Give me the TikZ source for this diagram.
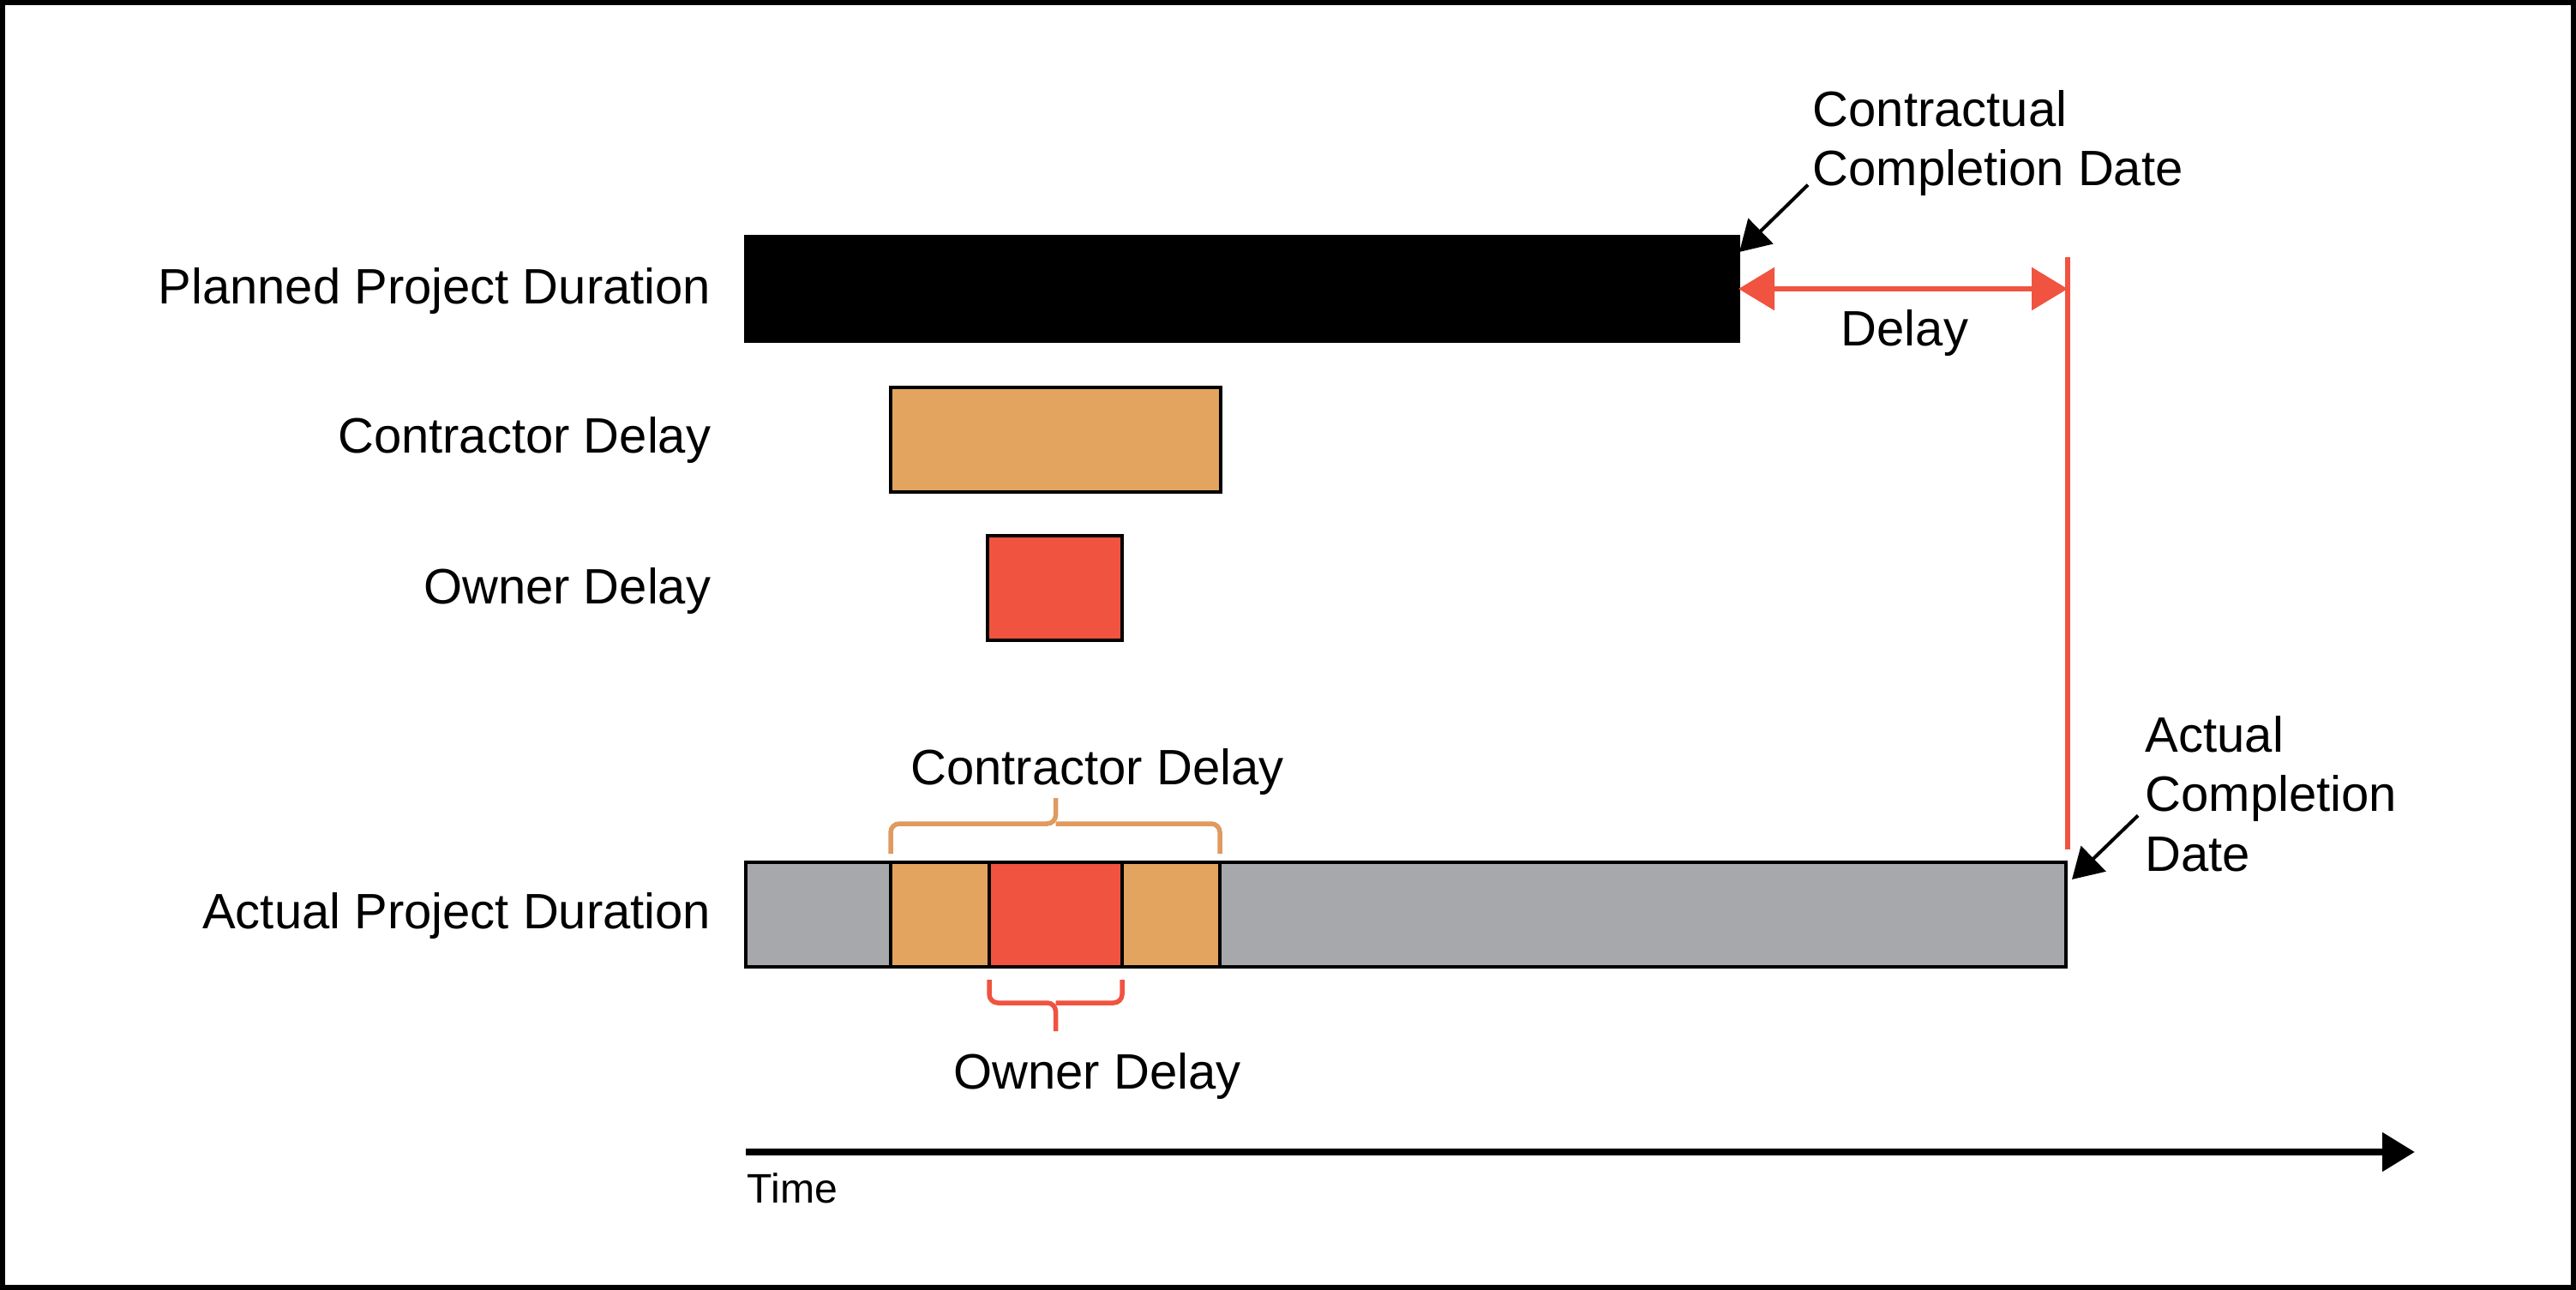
\documentclass[tikz,border=0pt]{standalone}
\usepackage{fontspec}
\setmainfont{Liberation Sans}
\usepackage{tikz}
\usetikzlibrary{positioning,arrows.meta}

\definecolor{cdelay}{HTML}{E2A45F}
\definecolor{odelay}{HTML}{F0533F}
\definecolor{actgray}{HTML}{A7A8AB}
\definecolor{cbrace}{HTML}{E09A5F}

\begin{document}
\begin{tikzpicture}[x=1mm, y=-1mm,
  lbl/.style={font=\fontsize{16.5}{19.7}\selectfont, inner sep=0pt},
  bar/.style={draw=black, line width=0.4mm, inner sep=0pt, outer sep=0pt, minimum height=12.2mm},
  callout/.style={line width=0.4mm, -{Triangle[length=3.5mm,width=4.1mm]}},
  delay/.style={draw=odelay, line width=0.62mm},
  brc/.style={line width=0.55mm, rounded corners=1mm}]

\useasboundingbox (0,0) rectangle (300.5,150.5);
\draw[line width=0.6mm] (0.3,0.3) rectangle (300.2,150.2);

% planned and delay bars
\node[bar, fill=black, minimum width=115.8mm, anchor=north west] (plan) at (87,27.6) {};
\node[bar, fill=cdelay, minimum width=38.5mm, anchor=north west] (cdel) at (103.9,45.2) {};
\node[bar, fill=odelay, minimum width=15.7mm, anchor=north west] (odel) at (115.2,62.5) {};

\node[lbl, anchor=base east] (lplan) at (83,35.5) {Planned Project Duration};
\node[lbl, anchor=base east] (lcdel) at (83,52.9) {Contractor Delay};
\node[lbl, anchor=base east] (lodel) at (83,70.5) {Owner Delay};

% actual bar
\node[bar, fill=actgray, minimum width=16.9mm, anchor=north west] (a1) at (87,100.6) {};
\node[bar, fill=cdelay, minimum width=11.5mm, right=0pt of a1] (a2) {};
\node[bar, fill=odelay, minimum width=15.5mm, right=0pt of a2] (a3) {};
\node[bar, fill=cdelay, minimum width=11.4mm, right=0pt of a3] (a4) {};
\node[bar, fill=actgray, minimum width=98.7mm, right=0pt of a4] (a5) {};
\node[lbl, anchor=base east] (lact) at (83,108.3) {Actual Project Duration};

% delay
\coordinate (ctop) at (241.2,30.0);
\coordinate (cbot) at (241.2,99.1);
\draw[delay] (ctop) -- (cbot);
\draw[delay, {Triangle[length=4.2mm,width=4.9mm]}-{Triangle[length=4.2mm,width=4.9mm]}] (plan.east) -- (plan.east -| ctop);
\node[lbl, anchor=base] (ldel) at (222.2,40.4) {Delay};

\node[lbl, anchor=north west, align=left] (ccd) at (211.4,10.5) {Contractual\\Completion Date};
\draw[callout] ([xshift=-0.5mm,yshift=1.4mm]ccd.south west) -- ([xshift=0.1mm,yshift=-1.8mm]plan.north east);
\node[lbl, anchor=north west, align=left] (acd) at (250.2,83.5) {Actual\\Completion\\Date};
\draw[callout] ([xshift=-0.8mm,yshift=6.6mm]acd.south west) -- ([xshift=0.7mm,yshift=-2mm]a5.north east);

% braces
\draw[brc, draw=cbrace] ([yshift=1mm]a2.north west) |- ([yshift=4.5mm]a3.north) -- ([yshift=7.5mm]a3.north);
\draw[brc, draw=cbrace] ([yshift=1mm]a4.north east) |- ([yshift=4.5mm]a3.north);
\node[lbl, anchor=base] (lcb) at (128,91.5) {Contractor Delay};
\draw[brc, draw=odelay] ([yshift=-1.5mm]a3.south west) |- ([yshift=-4.2mm]a3.south) -- ([yshift=-7.5mm]a3.south);
\draw[brc, draw=odelay] ([yshift=-1.5mm]a3.south east) |- ([yshift=-4.2mm]a3.south);
\node[lbl, anchor=base] (lob) at (128,127) {Owner Delay};

% time axis
\coordinate (t0) at (87,134.4);
\coordinate (t1) at (281.7,134.4);
\draw[line width=0.8mm, -{Triangle[length=3.8mm,width=4.4mm]}] (t0) -- (t1);
\node[font=\fontsize{13.7}{16}\selectfont, inner sep=0pt, anchor=base west] (ltime) at (87.1,140.3) {Time};
\end{tikzpicture}
\end{document}
